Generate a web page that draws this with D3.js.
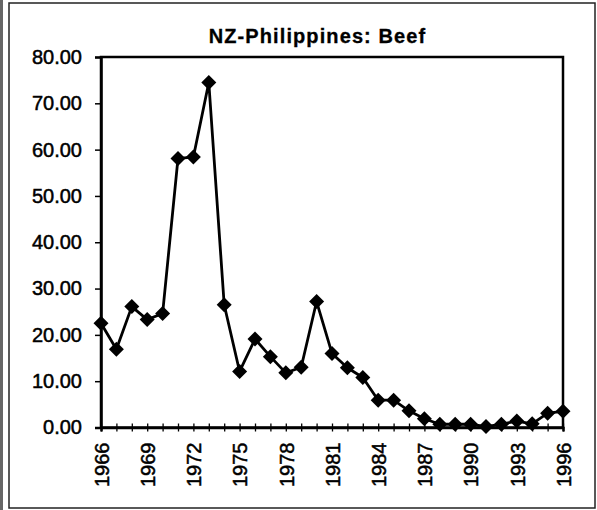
<!DOCTYPE html>
<html>
<head>
<meta charset="utf-8">
<script src="https://cdn.jsdelivr.net/npm/d3@7"></script>
<style>
  html, body { margin: 0; padding: 0; background: #fff; }
  svg { display: block; }
</style>
</head>
<body>
<script>
const years = [1966, 1967, 1968, 1969, 1970, 1971, 1972, 1973, 1974, 1975, 1976,
  1977, 1978, 1979, 1980, 1981, 1982, 1983, 1984, 1985, 1986, 1987, 1988, 1989,
  1990, 1991, 1992, 1993, 1994, 1995, 1996];
const values = [22.5, 16.9, 26.1, 23.3, 24.6, 58.1, 58.4, 74.5, 26.5, 12.1, 19.1,
  15.3, 11.8, 13.0, 27.2, 16.0, 12.9, 10.8, 5.9, 5.9, 3.6, 1.9, 0.7, 0.7,
  0.7, 0.2, 0.7, 1.4, 0.8, 3.1, 3.5];
const yTicks = [0, 10, 20, 30, 40, 50, 60, 70, 80];
const xTickLabels = [1966, 1969, 1972, 1975, 1978, 1981, 1984, 1987, 1990, 1993, 1996];
const chartTitle = "NZ-Philippines: Beef";

const W = 597, H = 510;
const pLeft = 101, pRight = 563, pTop = 57, pBottom = 427.5;
const FONT = "'Liberation Sans', Arial, sans-serif";

const svg = d3.select("body").append("svg").attr("width", W).attr("height", H);

// outer frame
svg.append("rect").attr("x", 0).attr("y", 0).attr("width", 3).attr("height", H).attr("fill", "#666");
svg.append("rect").attr("x", 9).attr("y", 3).attr("width", 586).attr("height", 505)
  .attr("fill", "none").attr("stroke", "#222").attr("stroke-width", 1.5);

const x = d3.scaleLinear().domain([1966, 1996]).range([pLeft, pRight]);
const y = d3.scaleLinear().domain([0, 80]).range([pBottom, pTop]);

// plot frame
svg.append("rect").attr("x", pLeft).attr("y", pTop).attr("width", pRight - pLeft).attr("height", pBottom - pTop)
  .attr("fill", "none").attr("stroke", "#000").attr("stroke-width", 2.5);

// title
svg.append("text").attr("x", 317.5).attr("y", 43).attr("text-anchor", "middle")
  .attr("font-family", FONT).attr("font-weight", "bold")
  .attr("font-size", 20).attr("letter-spacing", 1.1).attr("fill", "#000")
  .attr("stroke", "#000").attr("stroke-width", 0.3).text(chartTitle);

// y axis
const yAxis = d3.axisLeft(y).tickValues(yTicks).tickFormat(d3.format(".2f")).tickSize(6).tickPadding(13);
const gy = svg.append("g").attr("transform", `translate(${pLeft},0)`).call(yAxis);
gy.select(".domain").attr("stroke", "#000").attr("stroke-width", 2.5);
gy.selectAll(".tick line").attr("stroke", "#000").attr("stroke-width", 1.5);
gy.selectAll(".tick text").attr("font-family", FONT)
  .attr("font-size", 20).attr("fill", "#000").attr("stroke", "#000").attr("stroke-width", 0.5);

// x axis
const xAxis = d3.axisBottom(x).tickValues(years).tickSize(4).tickFormat(d => xTickLabels.includes(d) ? d : "");
const gx = svg.append("g").attr("transform", `translate(0,${pBottom})`).call(xAxis);
gx.select(".domain").attr("stroke", "#000").attr("stroke-width", 2.5);
gx.selectAll(".tick line").attr("y1", -4).attr("stroke", "#000").attr("stroke-width", 1.3);
gx.selectAll(".tick text").attr("font-family", FONT)
  .attr("font-size", 20).attr("fill", "#000").attr("stroke", "#000").attr("stroke-width", 0.5)
  .attr("transform", "rotate(-90)").attr("text-anchor", "end")
  .attr("x", -15).attr("y", 0).attr("dy", "0.36em");

// line
const data = years.map((yr, i) => ({ yr, v: values[i] }));
svg.append("path").datum(data)
  .attr("fill", "none").attr("stroke", "#000").attr("stroke-width", 2.8)
  .attr("stroke-linejoin", "round")
  .attr("d", d3.line().x(d => x(d.yr)).y(d => y(d.v)));

// diamond markers
const r = 7.5;
svg.append("g").selectAll("path").data(data).join("path")
  .attr("d", d => {
    const cx = x(d.yr), cy = y(d.v);
    return `M${cx},${cy - r}L${cx + r},${cy}L${cx},${cy + r}L${cx - r},${cy}Z`;
  })
  .attr("fill", "#000");
</script>
</body>
</html>
